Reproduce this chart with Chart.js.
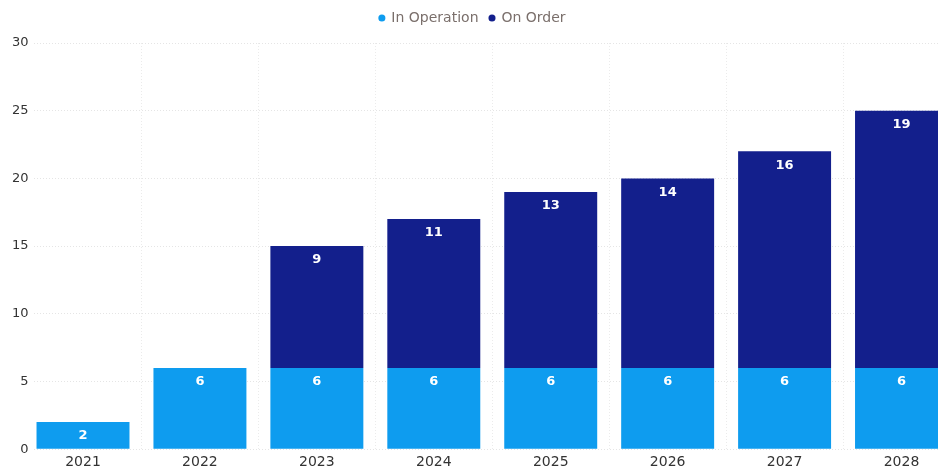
<!DOCTYPE html>
<html>
<head>
<meta charset="utf-8">
<script src="https://cdn.jsdelivr.net/npm/chart.js@4"></script>
<style>
  html, body { margin: 0; padding: 0; background: #fff; overflow: hidden; }
  #wrap { width: 938px; height: 476px; position: relative; }
</style>
</head>
<body>
<div id="wrap"><canvas id="fleetChart"></canvas></div>
<script>
const years = ['2021', '2022', '2023', '2024', '2025', '2026', '2027', '2028'];
const inOperation = [2, 6, 6, 6, 6, 6, 6, 6];
const onOrder = [null, null, 9, 11, 13, 14, 16, 19];
const yTicks = [0, 5, 10, 15, 20, 25, 30];

// bars sit on a linear x axis so the outer gap can be narrower than the inner gaps
const toPoints = arr => arr.map((v, i) => ({ x: i, y: v }));

// extra room under the legend
const legendGap = {
    id: 'legendGap',
    beforeLayout(chart) {
        const lg = chart.legend;
        if (!lg || lg._gapAdded) return;
        const fit = lg.fit.bind(lg);
        lg.fit = function () { fit(); this.height += 8; };
        lg._gapAdded = true;
    }
};

// white value labels near the top of each segment
const valueLabels = {
    id: 'valueLabels',
    afterDatasetsDraw(chart) {
        const ctx = chart.ctx;
        ctx.save();
        ctx.font = 'bold 13px "DejaVu Sans"';
        ctx.fillStyle = '#ffffff';
        ctx.textAlign = 'center';
        ctx.textBaseline = 'middle';
        chart.data.datasets.forEach((ds, di) => {
            chart.getDatasetMeta(di).data.forEach((bar, i) => {
                const v = ds.data[i].y;
                if (v == null) return;
                ctx.fillText(v, bar.x, bar.y + 14);
            });
        });
        ctx.restore();
    }
};

const ctx = document.getElementById('fleetChart').getContext('2d');
const fleetChart = new Chart(ctx, {
    type: 'bar',
    data: {
        datasets: [{
            label: 'In Operation',
            data: toPoints(inOperation),
            backgroundColor: '#0E9CEF',
            categoryPercentage: 1,
            barPercentage: 0.795
        }, {
            label: 'On Order',
            data: toPoints(onOrder),
            backgroundColor: '#131F8C',
            categoryPercentage: 1,
            barPercentage: 0.795
        }]
    },
    options: {
        responsive: true,
        maintainAspectRatio: false,
        animation: false,
        layout: { padding: { left: 7, right: 0, top: 0, bottom: 0 } },
        plugins: {
            legend: {
                display: true,
                position: 'top',
                labels: {
                    usePointStyle: true,
                    pointStyle: 'circle',
                    boxWidth: 5,
                    boxHeight: 5,
                    padding: 11,
                    color: '#7a6f6b',
                    font: { family: '"DejaVu Sans"', size: 14 }
                }
            },
            tooltip: { enabled: false }
        },
        scales: {
            x: {
                type: 'linear',
                stacked: true,
                offset: false,
                min: -0.423,
                max: 7.312,
                afterBuildTicks: s => { s.ticks = years.map((_, i) => ({ value: i })); },
                grid: {
                    color: 'rgba(0,0,0,0.08)',
                    drawTicks: false
                },
                border: { display: false, dash: [1, 2] },
                ticks: {
                    padding: 5,
                    color: '#333333',
                    maxRotation: 0,
                    autoSkip: false,
                    font: { family: '"DejaVu Sans"', size: 14 },
                    callback: v => years[v]
                }
            },
            y: {
                stacked: true,
                min: 0,
                max: 30,
                afterBuildTicks: s => { s.ticks = yTicks.map(v => ({ value: v })); },
                grid: {
                    color: 'rgba(0,0,0,0.1)',
                    drawTicks: false
                },
                border: { display: false, dash: [1, 2] },
                ticks: {
                    padding: 5,
                    color: '#333333',
                    font: { family: '"DejaVu Sans"', size: 13 }
                }
            }
        }
    },
    plugins: [legendGap, valueLabels]
});
</script>
</body>
</html>
